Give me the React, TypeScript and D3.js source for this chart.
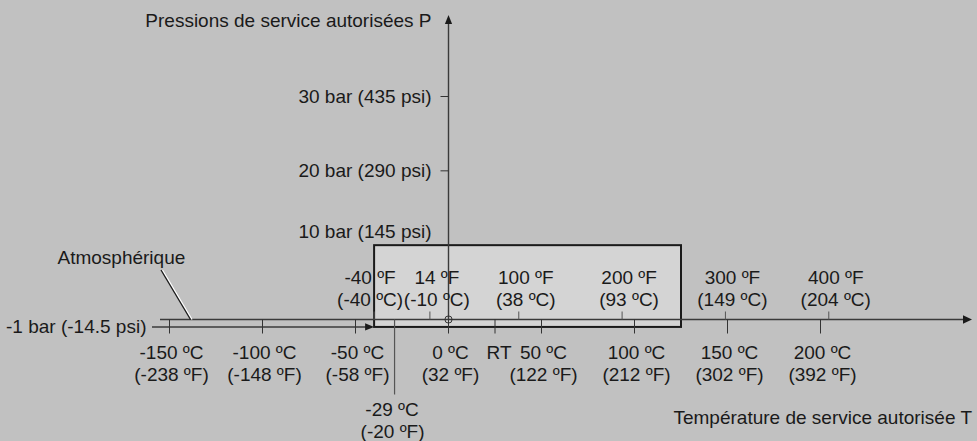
import React from "react";
import * as d3 from "d3";

// ---- data ----
const celsiusTicks = [-150, -100, -50, 0, 50, 100, 150, 200];
const celsiusTicksInF = ["-238", "-148", "-58", "32", "122", "212", "302", "392"];
const fahrenheitTicks = [-40, 14, 100, 200, 300, 400];
const fahrenheitTicksInC = ["-40", "-10", "38", "93", "149", "204"];
const pressureTicksBar = [10, 20, 30];
const pressureTicksPsi = ["145", "290", "435"];
const vacuumBar = -1;
const vacuumPsi = "-14.5";
const roomTempC = 25;
const minTempC = -29;
const minTempF = "-20";
const boxTempC = [-40, 125];
const boxPressureBar = [-1, 10];

const W = 977;
const H = 441;
const FONT = "'Liberation Sans', Arial, Helvetica, sans-serif";
const FS = 19;
const TEXT = "#1a1a1a";
const LINE = "#333";

export default function App() {
  const x = d3.scaleLinear().domain([0, 100]).range([448.5, 634.5]);
  const y = d3.scaleLinear().domain([0, 30]).range([319.5, 96.5]);
  const f2c = (f: number) => ((f - 32) * 5) / 9;

  const x0 = x(0);
  const y0 = y(0);
  const yVac = y(vacuumBar);
  const xArrowEnd = 972;
  const yTop = 15;

  const bx0 = x(boxTempC[0]);
  const bx1 = x(boxTempC[1]);
  const by0 = y(boxPressureBar[1]);
  const by1 = y(boxPressureBar[0]);

  const textProps = { fontFamily: FONT, fontSize: FS, fill: TEXT };

  return (
    <div style={{ position: "absolute", left: 0, top: 0 }}>
      <svg width={W} height={H} style={{ display: "block" }}>
        <rect x={0} y={0} width={W} height={H} fill="#c1c1c1" />

        {/* permitted range box */}
        <rect x={bx0} y={by0} width={bx1 - bx0} height={by1 - by0} fill="#d4d4d4" stroke="#1a1a1a" strokeWidth={2} />

        {/* atmospheric (0 bar) temperature axis */}
        <line x1={160} y1={y0} x2={xArrowEnd - 6} y2={y0} stroke="#3a3a3a" strokeWidth={1.6} />
        <polygon points={`${xArrowEnd},${y0} ${xArrowEnd - 9},${y0 - 4.2} ${xArrowEnd - 9},${y0 + 4.2}`} fill="#1a1a1a" />

        {/* -1 bar line with arrow into box */}
        <line x1={152} y1={yVac} x2={bx0 - 6} y2={yVac} stroke="#3a3a3a" strokeWidth={1.4} />
        <polygon points={`${bx0},${yVac} ${bx0 - 9},${yVac - 3.6} ${bx0 - 9},${yVac + 3.6}`} fill="#1a1a1a" />
        <text {...textProps} x={146.5} y={yVac + 6.5} textAnchor="end">
          {`${vacuumBar} bar (${vacuumPsi} psi)`}
        </text>

        {/* pressure axis */}
        <line x1={x0} y1={yTop + 6} x2={x0} y2={y0} stroke="#3a3a3a" strokeWidth={1.4} />
        <polygon points={`${x0},${yTop} ${x0 - 3.6},${yTop + 9} ${x0 + 3.6},${yTop + 9}`} fill="#1a1a1a" />
        <circle cx={x0} cy={y0} r={3.6} fill="none" stroke={LINE} strokeWidth={1} />

        {pressureTicksBar.map((p, i) => {
          const isBoxTop = p === boxPressureBar[1];
          return (
            <g key={p}>
              {!isBoxTop && <line x1={x0 - 8} x2={x0} y1={y(p)} y2={y(p)} stroke={LINE} strokeWidth={1} />}
              <text {...textProps} x={x0 - 17} y={isBoxTop ? y(p) - 7 : y(p) + 6.5} textAnchor="end">
                {`${p} bar (${pressureTicksPsi[i]} psi)`}
              </text>
            </g>
          );
        })}
        <text {...textProps} x={431.5} y={27} textAnchor="end">
          Pressions de service autorisées P
        </text>

        {/* Celsius ticks (below) */}
        {celsiusTicks.map((c, i) => (
          <g key={`c${c}`}>
            <line x1={x(c)} x2={x(c)} y1={y0} y2={y0 + 14} stroke={LINE} strokeWidth={1} />
            <text {...textProps} x={x(c) + 2} y={y0 + 39} textAnchor="middle">{`${c} ºC`}</text>
            <text {...textProps} x={x(c) + 2} y={y0 + 61} textAnchor="middle">{`(${celsiusTicksInF[i]} ºF)`}</text>
          </g>
        ))}

        {/* RT */}
        <line x1={x(roomTempC)} x2={x(roomTempC)} y1={y0} y2={y0 + 14} stroke={LINE} strokeWidth={1} />
        <text {...textProps} x={x(roomTempC) + 4} y={y0 + 39} textAnchor="middle">RT</text>

        {/* Fahrenheit ticks (above) */}
        {fahrenheitTicks.map((f, i) => {
          const xc = x(f2c(f));
          const dx = f === boxTempC[0] ? -4 : 7;
          return (
            <g key={`f${f}`}>
              <line x1={xc} x2={xc} y1={y0 - 8} y2={y0} stroke="#555" strokeWidth={1} />
              <text {...textProps} x={xc + dx} y={y0 - 36} textAnchor="middle">{`${f} ºF`}</text>
              <text {...textProps} x={xc + dx} y={y0 - 14} textAnchor="middle">{`(${fahrenheitTicksInC[i]} ºC)`}</text>
            </g>
          );
        })}

        {/* minimum temperature marker */}
        <line x1={x(minTempC)} x2={x(minTempC)} y1={y0} y2={y0 + 75} stroke="#555" strokeWidth={1.2} />
        <text {...textProps} x={x(minTempC) - 2.5} y={y0 + 96} textAnchor="middle">{`${minTempC} ºC`}</text>
        <text {...textProps} x={x(minTempC) - 2} y={y0 + 118} textAnchor="middle">{`(${minTempF} ºF)`}</text>

        {/* Atmosphérique leader */}
        <line x1={162.5} y1={270} x2={192} y2={y0} stroke="#ffffff" strokeWidth={1.3} />
        <line x1={161} y1={270} x2={190.5} y2={y0} stroke="#1a1a1a" strokeWidth={1.3} />
        <text {...textProps} x={57.5} y={263.5}>Atmosphérique</text>

        {/* temperature axis title */}
        <text {...textProps} x={972} y={423.5} textAnchor="end">
          Température de service autorisée T
        </text>
      </svg>
    </div>
  );
}
